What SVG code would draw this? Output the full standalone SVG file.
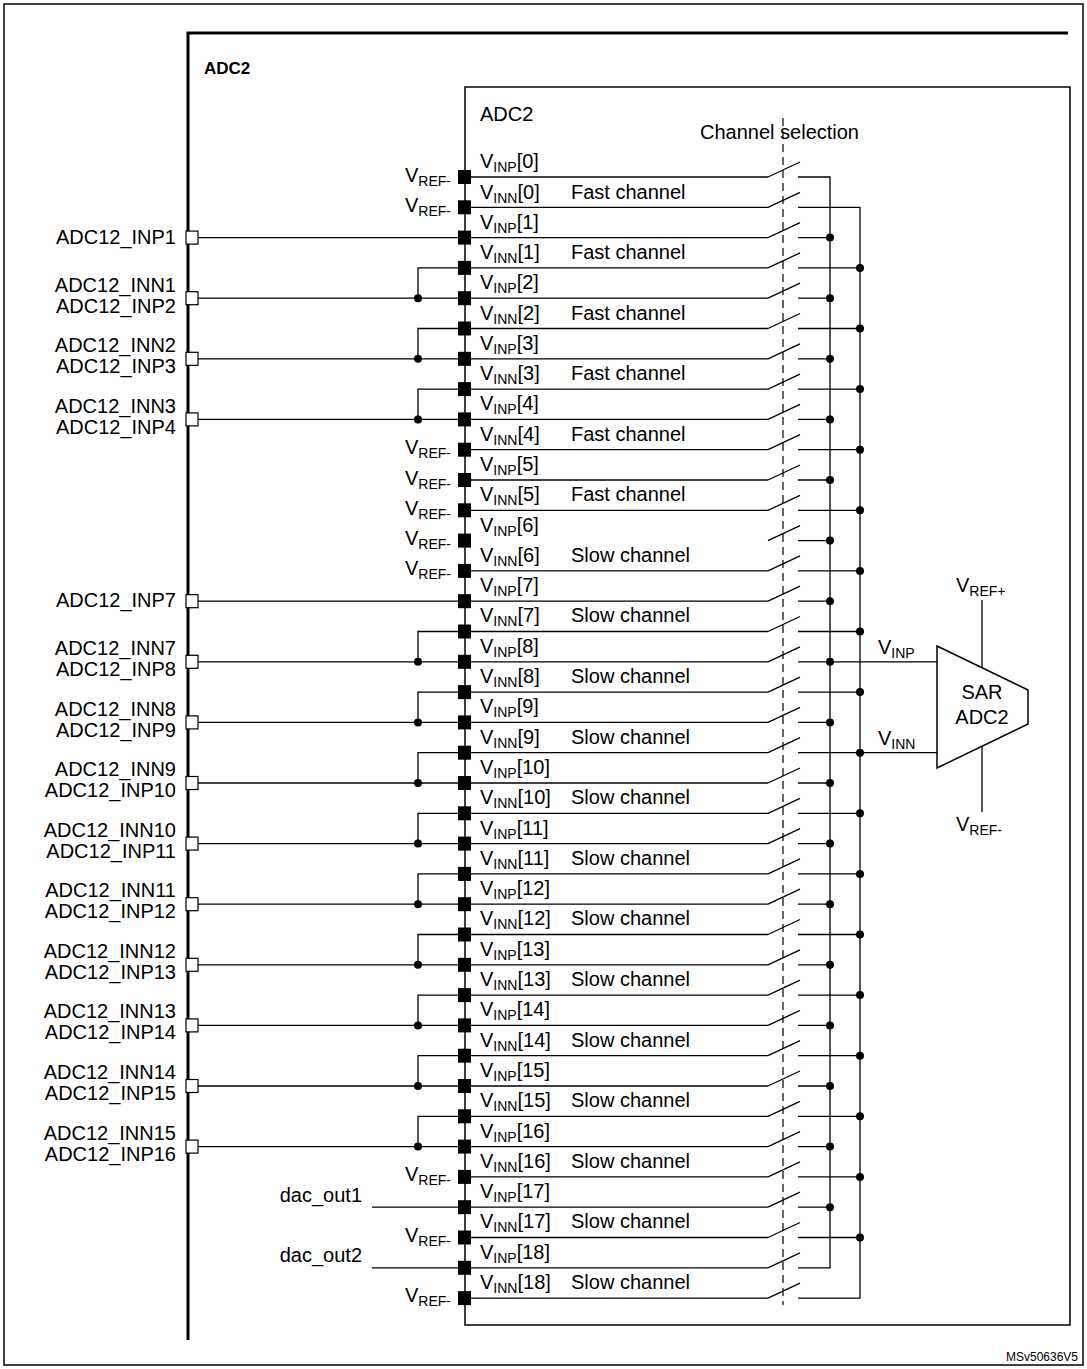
<svg xmlns="http://www.w3.org/2000/svg" width="1087" height="1369" viewBox="0 0 1087 1369">
<style>
text{font-family:"Liberation Sans",Arial,sans-serif;font-size:20px;fill:#000}
.s{font-size:14px}
.b{font-weight:bold;font-size:17px}
.r{text-anchor:end}
.m{text-anchor:middle}
.w{fill:none;stroke:#000;stroke-width:1.3}
.pad{fill:#000}
.pin{fill:#fff;stroke:#000;stroke-width:1.2}
</style>
<defs>
<rect id="pad" class="pad" x="458" y="-7" width="13" height="14"/>
<rect id="pin" class="pin" x="186" y="-6.5" width="12" height="13"/>
<circle id="dot" r="4" fill="#000"/>
</defs>
<rect x="4" y="4" width="1079" height="1361" fill="#fff" stroke="#000" stroke-width="1.5"/>
<g id="adc2-outer">
<path d="M188,1340 V33 H1068" fill="none" stroke="#000" stroke-width="3"/>
<text class="b" x="204" y="74">ADC2</text>
</g>
<g id="adc2-inner">
<rect x="465" y="87" width="605" height="1238" fill="none" stroke="#000" stroke-width="1.5"/>
<text x="480" y="121">ADC2</text>
<text x="700" y="139">Channel selection</text>
<path d="M783,118 V1305" fill="none" stroke="#000" stroke-width="1.2" stroke-dasharray="8,5"/>
</g>
<g id="connectors" class="w">
<path d="M471,177H768 M471,207.3H768 M198,237.6H768 M471,267.9H768 M198,298.2H768 M471,328.5H768 M198,358.8H768 M471,389.1H768 M198,419.4H768 M471,449.7H768 M471,480H768 M471,510.3H768 M471,570.9H768 M198,601.2H768 M471,631.5H768 M198,661.8H768 M471,692.1H768 M198,722.4H768 M471,752.7H768 M198,783H768 M471,813.3H768 M198,843.6H768 M471,873.9H768 M198,904.2H768 M471,934.5H768 M198,964.8H768 M471,995.1H768 M198,1025.4H768 M471,1055.7H768 M198,1086H768 M471,1116.3H768 M198,1146.6H768 M471,1176.9H768 M372,1207.2H768 M471,1237.5H768 M372,1267.8H768 M471,1298.1H768"/>
<path d="M768,177l32,-15 M768,207.3l32,-15 M768,237.6l32,-15 M768,267.9l32,-15 M768,298.2l32,-15 M768,328.5l32,-15 M768,358.8l32,-15 M768,389.1l32,-15 M768,419.4l32,-15 M768,449.7l32,-15 M768,480l32,-15 M768,510.3l32,-15 M768,540.6l32,-15 M768,570.9l32,-15 M768,601.2l32,-15 M768,631.5l32,-15 M768,661.8l32,-15 M768,692.1l32,-15 M768,722.4l32,-15 M768,752.7l32,-15 M768,783l32,-15 M768,813.3l32,-15 M768,843.6l32,-15 M768,873.9l32,-15 M768,904.2l32,-15 M768,934.5l32,-15 M768,964.8l32,-15 M768,995.1l32,-15 M768,1025.4l32,-15 M768,1055.7l32,-15 M768,1086l32,-15 M768,1116.3l32,-15 M768,1146.6l32,-15 M768,1176.9l32,-15 M768,1207.2l32,-15 M768,1237.5l32,-15 M768,1267.8l32,-15 M768,1298.1l32,-15"/>
<path d="M798,177H830V1267.8H798 M798,237.6H830 M798,298.2H830 M798,358.8H830 M798,419.4H830 M798,480H830 M798,540.6H830 M798,601.2H830 M798,661.8H830 M798,722.4H830 M798,783H830 M798,843.6H830 M798,904.2H830 M798,964.8H830 M798,1025.4H830 M798,1086H830 M798,1146.6H830 M798,1207.2H830"/>
<path d="M798,207.3H860V1298.1H798 M798,267.9H860 M798,328.5H860 M798,389.1H860 M798,449.7H860 M798,510.3H860 M798,570.9H860 M798,631.5H860 M798,692.1H860 M798,752.7H860 M798,813.3H860 M798,873.9H860 M798,934.5H860 M798,995.1H860 M798,1055.7H860 M798,1116.3H860 M798,1176.9H860 M798,1237.5H860"/>
<path d="M418,298.2V267.9H458 M418,358.8V328.5H458 M418,419.4V389.1H458 M418,661.8V631.5H458 M418,722.4V692.1H458 M418,783V752.7H458 M418,843.6V813.3H458 M418,904.2V873.9H458 M418,964.8V934.5H458 M418,1025.4V995.1H458 M418,1086V1055.7H458 M418,1146.6V1116.3H458"/>
<path d="M830,661.8H937 M860,752.7H937 M982,600V668 M982,746V812"/>
</g>
<g id="dots">
<use href="#dot" x="830" y="237.6"/><use href="#dot" x="830" y="298.2"/><use href="#dot" x="830" y="358.8"/><use href="#dot" x="830" y="419.4"/><use href="#dot" x="830" y="480"/><use href="#dot" x="830" y="540.6"/><use href="#dot" x="830" y="601.2"/><use href="#dot" x="830" y="661.8"/><use href="#dot" x="830" y="722.4"/><use href="#dot" x="830" y="783"/><use href="#dot" x="830" y="843.6"/><use href="#dot" x="830" y="904.2"/><use href="#dot" x="830" y="964.8"/><use href="#dot" x="830" y="1025.4"/><use href="#dot" x="830" y="1086"/><use href="#dot" x="830" y="1146.6"/><use href="#dot" x="830" y="1207.2"/>
<use href="#dot" x="860" y="267.9"/><use href="#dot" x="860" y="328.5"/><use href="#dot" x="860" y="389.1"/><use href="#dot" x="860" y="449.7"/><use href="#dot" x="860" y="510.3"/><use href="#dot" x="860" y="570.9"/><use href="#dot" x="860" y="631.5"/><use href="#dot" x="860" y="692.1"/><use href="#dot" x="860" y="752.7"/><use href="#dot" x="860" y="813.3"/><use href="#dot" x="860" y="873.9"/><use href="#dot" x="860" y="934.5"/><use href="#dot" x="860" y="995.1"/><use href="#dot" x="860" y="1055.7"/><use href="#dot" x="860" y="1116.3"/><use href="#dot" x="860" y="1176.9"/><use href="#dot" x="860" y="1237.5"/>
<use href="#dot" x="418" y="298.2"/><use href="#dot" x="418" y="358.8"/><use href="#dot" x="418" y="419.4"/><use href="#dot" x="418" y="661.8"/><use href="#dot" x="418" y="722.4"/><use href="#dot" x="418" y="783"/><use href="#dot" x="418" y="843.6"/><use href="#dot" x="418" y="904.2"/><use href="#dot" x="418" y="964.8"/><use href="#dot" x="418" y="1025.4"/><use href="#dot" x="418" y="1086"/><use href="#dot" x="418" y="1146.6"/>
</g>
<g id="pads">
<use href="#pad" y="177"/><use href="#pad" y="207.3"/><use href="#pad" y="237.6"/><use href="#pad" y="267.9"/><use href="#pad" y="298.2"/><use href="#pad" y="328.5"/><use href="#pad" y="358.8"/><use href="#pad" y="389.1"/><use href="#pad" y="419.4"/><use href="#pad" y="449.7"/><use href="#pad" y="480"/><use href="#pad" y="510.3"/><use href="#pad" y="540.6"/><use href="#pad" y="570.9"/><use href="#pad" y="601.2"/><use href="#pad" y="631.5"/><use href="#pad" y="661.8"/><use href="#pad" y="692.1"/><use href="#pad" y="722.4"/><use href="#pad" y="752.7"/><use href="#pad" y="783"/><use href="#pad" y="813.3"/><use href="#pad" y="843.6"/><use href="#pad" y="873.9"/><use href="#pad" y="904.2"/><use href="#pad" y="934.5"/><use href="#pad" y="964.8"/><use href="#pad" y="995.1"/><use href="#pad" y="1025.4"/><use href="#pad" y="1055.7"/><use href="#pad" y="1086"/><use href="#pad" y="1116.3"/><use href="#pad" y="1146.6"/><use href="#pad" y="1176.9"/><use href="#pad" y="1207.2"/><use href="#pad" y="1237.5"/><use href="#pad" y="1267.8"/><use href="#pad" y="1298.1"/>
</g>
<g id="channel-labels">
<text x="480" y="168">V<tspan class="s" dy="4">INP</tspan><tspan dy="-4">[0]</tspan></text>
<text x="480" y="199">V<tspan class="s" dy="4">INN</tspan><tspan dy="-4">[0]</tspan></text><text x="571" y="199">Fast channel</text>
<text x="480" y="229">V<tspan class="s" dy="4">INP</tspan><tspan dy="-4">[1]</tspan></text>
<text x="480" y="259">V<tspan class="s" dy="4">INN</tspan><tspan dy="-4">[1]</tspan></text><text x="571" y="259">Fast channel</text>
<text x="480" y="289">V<tspan class="s" dy="4">INP</tspan><tspan dy="-4">[2]</tspan></text>
<text x="480" y="320">V<tspan class="s" dy="4">INN</tspan><tspan dy="-4">[2]</tspan></text><text x="571" y="320">Fast channel</text>
<text x="480" y="350">V<tspan class="s" dy="4">INP</tspan><tspan dy="-4">[3]</tspan></text>
<text x="480" y="380">V<tspan class="s" dy="4">INN</tspan><tspan dy="-4">[3]</tspan></text><text x="571" y="380">Fast channel</text>
<text x="480" y="410">V<tspan class="s" dy="4">INP</tspan><tspan dy="-4">[4]</tspan></text>
<text x="480" y="441">V<tspan class="s" dy="4">INN</tspan><tspan dy="-4">[4]</tspan></text><text x="571" y="441">Fast channel</text>
<text x="480" y="471">V<tspan class="s" dy="4">INP</tspan><tspan dy="-4">[5]</tspan></text>
<text x="480" y="501">V<tspan class="s" dy="4">INN</tspan><tspan dy="-4">[5]</tspan></text><text x="571" y="501">Fast channel</text>
<text x="480" y="532">V<tspan class="s" dy="4">INP</tspan><tspan dy="-4">[6]</tspan></text>
<text x="480" y="562">V<tspan class="s" dy="4">INN</tspan><tspan dy="-4">[6]</tspan></text><text x="571" y="562">Slow channel</text>
<text x="480" y="592">V<tspan class="s" dy="4">INP</tspan><tspan dy="-4">[7]</tspan></text>
<text x="480" y="622">V<tspan class="s" dy="4">INN</tspan><tspan dy="-4">[7]</tspan></text><text x="571" y="622">Slow channel</text>
<text x="480" y="653">V<tspan class="s" dy="4">INP</tspan><tspan dy="-4">[8]</tspan></text>
<text x="480" y="683">V<tspan class="s" dy="4">INN</tspan><tspan dy="-4">[8]</tspan></text><text x="571" y="683">Slow channel</text>
<text x="480" y="713">V<tspan class="s" dy="4">INP</tspan><tspan dy="-4">[9]</tspan></text>
<text x="480" y="744">V<tspan class="s" dy="4">INN</tspan><tspan dy="-4">[9]</tspan></text><text x="571" y="744">Slow channel</text>
<text x="480" y="774">V<tspan class="s" dy="4">INP</tspan><tspan dy="-4">[10]</tspan></text>
<text x="480" y="804">V<tspan class="s" dy="4">INN</tspan><tspan dy="-4">[10]</tspan></text><text x="571" y="804">Slow channel</text>
<text x="480" y="835">V<tspan class="s" dy="4">INP</tspan><tspan dy="-4">[11]</tspan></text>
<text x="480" y="865">V<tspan class="s" dy="4">INN</tspan><tspan dy="-4">[11]</tspan></text><text x="571" y="865">Slow channel</text>
<text x="480" y="895">V<tspan class="s" dy="4">INP</tspan><tspan dy="-4">[12]</tspan></text>
<text x="480" y="925">V<tspan class="s" dy="4">INN</tspan><tspan dy="-4">[12]</tspan></text><text x="571" y="925">Slow channel</text>
<text x="480" y="956">V<tspan class="s" dy="4">INP</tspan><tspan dy="-4">[13]</tspan></text>
<text x="480" y="986">V<tspan class="s" dy="4">INN</tspan><tspan dy="-4">[13]</tspan></text><text x="571" y="986">Slow channel</text>
<text x="480" y="1016">V<tspan class="s" dy="4">INP</tspan><tspan dy="-4">[14]</tspan></text>
<text x="480" y="1047">V<tspan class="s" dy="4">INN</tspan><tspan dy="-4">[14]</tspan></text><text x="571" y="1047">Slow channel</text>
<text x="480" y="1077">V<tspan class="s" dy="4">INP</tspan><tspan dy="-4">[15]</tspan></text>
<text x="480" y="1107">V<tspan class="s" dy="4">INN</tspan><tspan dy="-4">[15]</tspan></text><text x="571" y="1107">Slow channel</text>
<text x="480" y="1138">V<tspan class="s" dy="4">INP</tspan><tspan dy="-4">[16]</tspan></text>
<text x="480" y="1168">V<tspan class="s" dy="4">INN</tspan><tspan dy="-4">[16]</tspan></text><text x="571" y="1168">Slow channel</text>
<text x="480" y="1198">V<tspan class="s" dy="4">INP</tspan><tspan dy="-4">[17]</tspan></text>
<text x="480" y="1228">V<tspan class="s" dy="4">INN</tspan><tspan dy="-4">[17]</tspan></text><text x="571" y="1228">Slow channel</text>
<text x="480" y="1259">V<tspan class="s" dy="4">INP</tspan><tspan dy="-4">[18]</tspan></text>
<text x="480" y="1289">V<tspan class="s" dy="4">INN</tspan><tspan dy="-4">[18]</tspan></text><text x="571" y="1289">Slow channel</text>
</g>
<g id="vref-labels">
<text class="r" x="451" y="182">V<tspan class="s" dy="4">REF-</tspan></text>
<text class="r" x="451" y="212">V<tspan class="s" dy="4">REF-</tspan></text>
<text class="r" x="451" y="454">V<tspan class="s" dy="4">REF-</tspan></text>
<text class="r" x="451" y="485">V<tspan class="s" dy="4">REF-</tspan></text>
<text class="r" x="451" y="515">V<tspan class="s" dy="4">REF-</tspan></text>
<text class="r" x="451" y="545">V<tspan class="s" dy="4">REF-</tspan></text>
<text class="r" x="451" y="575">V<tspan class="s" dy="4">REF-</tspan></text>
<text class="r" x="451" y="1181">V<tspan class="s" dy="4">REF-</tspan></text>
<text class="r" x="451" y="1242">V<tspan class="s" dy="4">REF-</tspan></text>
<text class="r" x="451" y="1302">V<tspan class="s" dy="4">REF-</tspan></text>
</g>
<g id="pins">
<use href="#pin" y="237.6"/><use href="#pin" y="298.2"/><use href="#pin" y="358.8"/><use href="#pin" y="419.4"/><use href="#pin" y="601.2"/><use href="#pin" y="661.8"/><use href="#pin" y="722.4"/><use href="#pin" y="783"/><use href="#pin" y="843.6"/><use href="#pin" y="904.2"/><use href="#pin" y="964.8"/><use href="#pin" y="1025.4"/><use href="#pin" y="1086"/><use href="#pin" y="1146.6"/>
<text class="r" x="176" y="244">ADC12_INP1</text>
<text class="r" x="176" y="292">ADC12_INN1</text><text class="r" x="176" y="313">ADC12_INP2</text>
<text class="r" x="176" y="352">ADC12_INN2</text><text class="r" x="176" y="373">ADC12_INP3</text>
<text class="r" x="176" y="413">ADC12_INN3</text><text class="r" x="176" y="434">ADC12_INP4</text>
<text class="r" x="176" y="607">ADC12_INP7</text>
<text class="r" x="176" y="655">ADC12_INN7</text><text class="r" x="176" y="676">ADC12_INP8</text>
<text class="r" x="176" y="716">ADC12_INN8</text><text class="r" x="176" y="737">ADC12_INP9</text>
<text class="r" x="176" y="776">ADC12_INN9</text><text class="r" x="176" y="797">ADC12_INP10</text>
<text class="r" x="176" y="837">ADC12_INN10</text><text class="r" x="176" y="858">ADC12_INP11</text>
<text class="r" x="176" y="897">ADC12_INN11</text><text class="r" x="176" y="918">ADC12_INP12</text>
<text class="r" x="176" y="958">ADC12_INN12</text><text class="r" x="176" y="979">ADC12_INP13</text>
<text class="r" x="176" y="1018">ADC12_INN13</text><text class="r" x="176" y="1039">ADC12_INP14</text>
<text class="r" x="176" y="1079">ADC12_INN14</text><text class="r" x="176" y="1100">ADC12_INP15</text>
<text class="r" x="176" y="1140">ADC12_INN15</text><text class="r" x="176" y="1161">ADC12_INP16</text>
<text class="r" x="362" y="1202">dac_out1</text>
<text class="r" x="362" y="1262">dac_out2</text>
</g>
<g id="sar-adc2">
<path d="M937,646 L1028,690 V724 L937,768 Z" fill="#fff" stroke="#000" stroke-width="1.5"/>
<text class="m" x="982" y="699">SAR</text>
<text class="m" x="982" y="724">ADC2</text>
<text x="878" y="654">V<tspan class="s" dy="4">INP</tspan></text>
<text x="878" y="745">V<tspan class="s" dy="4">INN</tspan></text>
<text x="956" y="592">V<tspan class="s" dy="4">REF+</tspan></text>
<text x="956" y="831">V<tspan class="s" dy="4">REF-</tspan></text>
</g>
<text class="r" x="1078" y="1361" style="font-size:12px">MSv50636V5</text>
</svg>
